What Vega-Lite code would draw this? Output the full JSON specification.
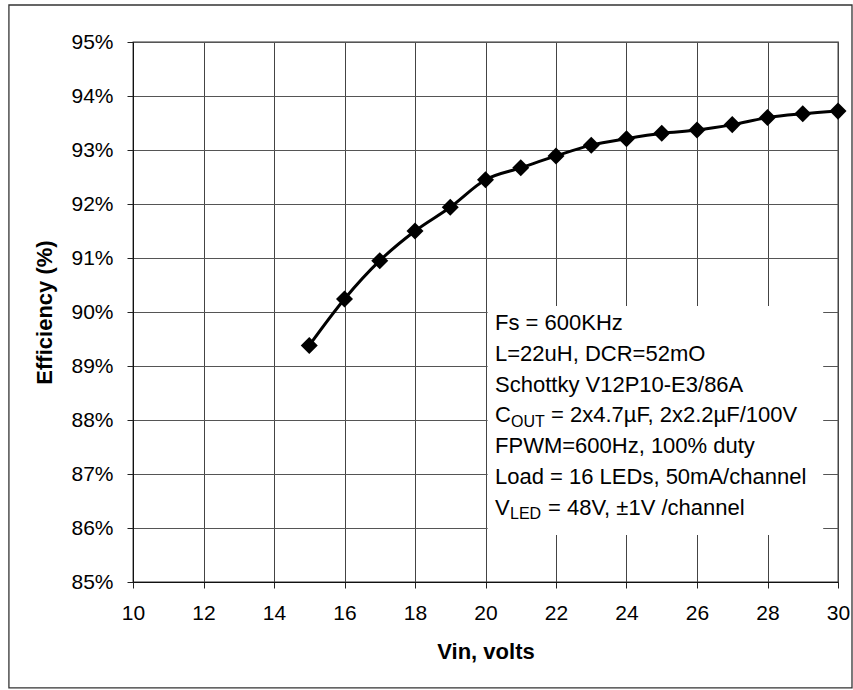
{
  "$schema": "https://vega.github.io/schema/vega-lite/v6.json",
  "width": 705,
  "height": 540,
  "autosize": {"type": "none"},
  "padding": {"left": 133, "top": 42, "right": 15, "bottom": 108},
  "background": "white",
  "config": {
    "view": {"stroke": "#333333", "strokeWidth": 1.3},
    "font": "Liberation Sans",
    "text": {"font": "Liberation Sans"}
  },
  "datasets": {
    "curve": [
      {"vin": 15, "eff": 89.38},
      {"vin": 16, "eff": 90.24},
      {"vin": 17, "eff": 90.95},
      {"vin": 18, "eff": 91.50},
      {"vin": 19, "eff": 91.94},
      {"vin": 20, "eff": 92.45},
      {"vin": 21, "eff": 92.67},
      {"vin": 22, "eff": 92.89},
      {"vin": 23, "eff": 93.09},
      {"vin": 24, "eff": 93.21},
      {"vin": 25, "eff": 93.31},
      {"vin": 26, "eff": 93.37},
      {"vin": 27, "eff": 93.47},
      {"vin": 28, "eff": 93.60},
      {"vin": 29, "eff": 93.67},
      {"vin": 30, "eff": 93.72}
    ],
    "one": [{"k": 1}]
  },
  "layer": [
    {
      "data": {"name": "curve"},
      "mark": {"type": "line", "interpolate": "monotone", "color": "black", "strokeWidth": 3},
      "encoding": {
        "x": {
          "field": "vin",
          "type": "quantitative",
          "scale": {"domain": [10, 30], "nice": false, "zero": false},
          "axis": {
            "title": "Vin, volts",
            "values": [10, 11, 12, 13, 14, 15, 16, 17, 18, 19, 20, 21, 22, 23, 24, 25, 26, 27, 28, 29, 30],
            "labelExpr": "datum.value % 2 == 0 ? datum.label : ''",
            "labelFlush": false,
            "labelOverlap": false,
            "labelFontSize": 21,
            "labelColor": "black",
            "labelPadding": 14,
            "tickSize": 6,
            "tickColor": "#222222",
            "domainColor": "#111111",
            "grid": true,
            "gridColor": "#444444",
            "gridWidth": 1,
            "gridOpacity": {"condition": {"test": "datum.value % 2 == 1", "value": 0}, "value": 1},
            "titleFontSize": 22,
            "titleFontWeight": "bold",
            "titleColor": "black",
            "titlePadding": 18
          }
        },
        "y": {
          "field": "eff",
          "type": "quantitative",
          "scale": {"domain": [85, 95], "nice": false, "zero": false},
          "axis": {
            "title": "Efficiency (%)",
            "values": [85, 86, 87, 88, 89, 90, 91, 92, 93, 94, 95],
            "labelExpr": "datum.value + '%'",
            "labelOverlap": false,
            "labelFontSize": 21,
            "labelColor": "black",
            "labelPadding": 14,
            "tickSize": 6,
            "tickColor": "#222222",
            "domainColor": "#111111",
            "grid": true,
            "gridColor": "#555555",
            "gridWidth": 1,
            "titleFontSize": 22,
            "titleFontWeight": "bold",
            "titleColor": "black",
            "titlePadding": 14
          }
        }
      }
    },
    {
      "data": {"name": "one"},
      "mark": {"type": "rect", "filled": false, "stroke": "#333333", "strokeWidth": 1.3, "clip": false},
      "encoding": {
        "x": {"datum": 6.48, "type": "quantitative"},
        "x2": {"datum": 30.397},
        "y": {"datum": 95.685, "type": "quantitative"},
        "y2": {"datum": 83.04}
      }
    },
    {
      "data": {"name": "one"},
      "mark": {"type": "rect", "fill": "white"},
      "encoding": {
        "x": {"datum": 20.06, "type": "quantitative"},
        "x2": {"datum": 29.58},
        "y": {"datum": 90.11, "type": "quantitative"},
        "y2": {"datum": 85.87}
      }
    },
    {
      "data": {"name": "curve"},
      "mark": {"type": "point", "shape": "diamond", "filled": true, "color": "black", "size": 290, "opacity": 1},
      "encoding": {
        "x": {"field": "vin", "type": "quantitative"},
        "y": {"field": "eff", "type": "quantitative"}
      }
    },
    {
      "data": {"name": "one"},
      "mark": {
        "type": "text",
        "align": "left",
        "baseline": "alphabetic",
        "fontSize": 22,
        "lineHeight": 30.8,
        "color": "black",
        "text": ["Fs = 600KHz", "L=22uH, DCR=52mO", "Schottky V12P10-E3/86A", "C", "FPWM=600Hz, 100% duty", "Load = 16 LEDs, 50mA/channel", "V"]
      },
      "encoding": {
        "x": {"datum": 20.27, "type": "quantitative"},
        "y": {"datum": 89.667, "type": "quantitative"}
      }
    },
    {
      "data": {"name": "one"},
      "mark": {"type": "text", "align": "left", "baseline": "alphabetic", "fontSize": 16, "color": "black", "text": "OUT", "dx": 16, "dy": 96.9},
      "encoding": {
        "x": {"datum": 20.27, "type": "quantitative"},
        "y": {"datum": 89.667, "type": "quantitative"}
      }
    },
    {
      "data": {"name": "one"},
      "mark": {"type": "text", "align": "left", "baseline": "alphabetic", "fontSize": 22, "color": "black", "text": "= 2x4.7µF, 2x2.2µF/100V", "dx": 56, "dy": 92.4},
      "encoding": {
        "x": {"datum": 20.27, "type": "quantitative"},
        "y": {"datum": 89.667, "type": "quantitative"}
      }
    },
    {
      "data": {"name": "one"},
      "mark": {"type": "text", "align": "left", "baseline": "alphabetic", "fontSize": 16, "color": "black", "text": "LED", "dx": 15, "dy": 189.3},
      "encoding": {
        "x": {"datum": 20.27, "type": "quantitative"},
        "y": {"datum": 89.667, "type": "quantitative"}
      }
    },
    {
      "data": {"name": "one"},
      "mark": {"type": "text", "align": "left", "baseline": "alphabetic", "fontSize": 22, "color": "black", "text": "= 48V, ±1V /channel", "dx": 53, "dy": 184.8},
      "encoding": {
        "x": {"datum": 20.27, "type": "quantitative"},
        "y": {"datum": 89.667, "type": "quantitative"}
      }
    }
  ]
}
